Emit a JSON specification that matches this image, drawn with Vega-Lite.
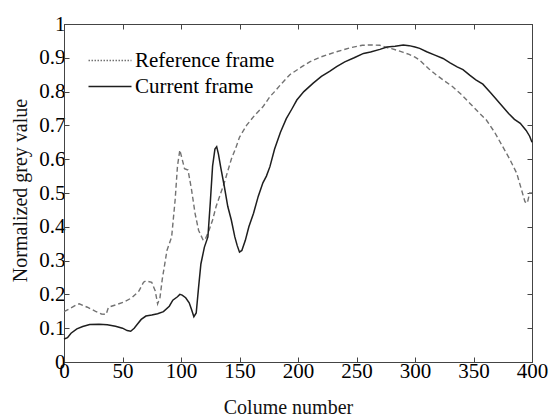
{
  "$schema": "https://vega.github.io/schema/vega-lite/v6.json",
  "width": 468,
  "height": 338,
  "autosize": {"type": "none"},
  "padding": {"left": 64, "top": 24, "right": 19, "bottom": 54},
  "background": "white",
  "config": {
    "view": {"stroke": "#444", "strokeWidth": 1},
    "font": "Liberation Serif",
    "axis": {
      "labelFont": "Liberation Serif",
      "titleFont": "Liberation Serif",
      "labelFontSize": 21,
      "titleFontSize": 20,
      "titleFontWeight": "normal",
      "labelColor": "black",
      "titleColor": "#111",
      "domainColor": "#444",
      "tickColor": "#444",
      "grid": false
    }
  },
  "resolve": {"axis": {"x": "independent", "y": "independent"}},
  "data": {"values": [
    {"x":0,"y":0.149,"s":"Reference frame"},{"x":5,"y":0.158,"s":"Reference frame"},{"x":10,"y":0.168,"s":"Reference frame"},{"x":13,"y":0.172,"s":"Reference frame"},{"x":20,"y":0.162,"s":"Reference frame"},{"x":27,"y":0.15,"s":"Reference frame"},{"x":32,"y":0.142,"s":"Reference frame"},{"x":36,"y":0.141,"s":"Reference frame"},{"x":38,"y":0.162,"s":"Reference frame"},{"x":45,"y":0.17,"s":"Reference frame"},{"x":51,"y":0.177,"s":"Reference frame"},{"x":58,"y":0.19,"s":"Reference frame"},{"x":64,"y":0.21,"s":"Reference frame"},{"x":68,"y":0.236,"s":"Reference frame"},{"x":70,"y":0.24,"s":"Reference frame"},{"x":75,"y":0.236,"s":"Reference frame"},{"x":78,"y":0.21,"s":"Reference frame"},{"x":80,"y":0.172,"s":"Reference frame"},{"x":82,"y":0.19,"s":"Reference frame"},{"x":84,"y":0.245,"s":"Reference frame"},{"x":88,"y":0.33,"s":"Reference frame"},{"x":92,"y":0.37,"s":"Reference frame"},{"x":95,"y":0.48,"s":"Reference frame"},{"x":97,"y":0.58,"s":"Reference frame"},{"x":99,"y":0.627,"s":"Reference frame"},{"x":101,"y":0.6,"s":"Reference frame"},{"x":103,"y":0.572,"s":"Reference frame"},{"x":106,"y":0.568,"s":"Reference frame"},{"x":109,"y":0.51,"s":"Reference frame"},{"x":112,"y":0.44,"s":"Reference frame"},{"x":115,"y":0.39,"s":"Reference frame"},{"x":119,"y":0.36,"s":"Reference frame"},{"x":121,"y":0.365,"s":"Reference frame"},{"x":124,"y":0.39,"s":"Reference frame"},{"x":127,"y":0.42,"s":"Reference frame"},{"x":130,"y":0.46,"s":"Reference frame"},{"x":134,"y":0.5,"s":"Reference frame"},{"x":137,"y":0.53,"s":"Reference frame"},{"x":140,"y":0.565,"s":"Reference frame"},{"x":143,"y":0.6,"s":"Reference frame"},{"x":147,"y":0.635,"s":"Reference frame"},{"x":150,"y":0.665,"s":"Reference frame"},{"x":156,"y":0.7,"s":"Reference frame"},{"x":163,"y":0.73,"s":"Reference frame"},{"x":170,"y":0.755,"s":"Reference frame"},{"x":176,"y":0.785,"s":"Reference frame"},{"x":180,"y":0.8,"s":"Reference frame"},{"x":185,"y":0.82,"s":"Reference frame"},{"x":193,"y":0.85,"s":"Reference frame"},{"x":203,"y":0.873,"s":"Reference frame"},{"x":210,"y":0.888,"s":"Reference frame"},{"x":220,"y":0.903,"s":"Reference frame"},{"x":233,"y":0.918,"s":"Reference frame"},{"x":245,"y":0.93,"s":"Reference frame"},{"x":255,"y":0.937,"s":"Reference frame"},{"x":262,"y":0.938,"s":"Reference frame"},{"x":270,"y":0.937,"s":"Reference frame"},{"x":276,"y":0.93,"s":"Reference frame"},{"x":280,"y":0.927,"s":"Reference frame"},{"x":285,"y":0.922,"s":"Reference frame"},{"x":290,"y":0.916,"s":"Reference frame"},{"x":295,"y":0.91,"s":"Reference frame"},{"x":300,"y":0.902,"s":"Reference frame"},{"x":304,"y":0.893,"s":"Reference frame"},{"x":308,"y":0.88,"s":"Reference frame"},{"x":312,"y":0.867,"s":"Reference frame"},{"x":318,"y":0.85,"s":"Reference frame"},{"x":325,"y":0.832,"s":"Reference frame"},{"x":332,"y":0.815,"s":"Reference frame"},{"x":340,"y":0.79,"s":"Reference frame"},{"x":347,"y":0.765,"s":"Reference frame"},{"x":354,"y":0.74,"s":"Reference frame"},{"x":361,"y":0.716,"s":"Reference frame"},{"x":368,"y":0.68,"s":"Reference frame"},{"x":375,"y":0.637,"s":"Reference frame"},{"x":381,"y":0.6,"s":"Reference frame"},{"x":387,"y":0.558,"s":"Reference frame"},{"x":391,"y":0.51,"s":"Reference frame"},{"x":394,"y":0.474,"s":"Reference frame"},{"x":396,"y":0.47,"s":"Reference frame"},{"x":398,"y":0.5,"s":"Reference frame"},{"x":400,"y":0.5,"s":"Reference frame"},
    {"x":0,"y":0.068,"s":"Current frame"},{"x":3,"y":0.072,"s":"Current frame"},{"x":6,"y":0.085,"s":"Current frame"},{"x":11,"y":0.098,"s":"Current frame"},{"x":16,"y":0.105,"s":"Current frame"},{"x":22,"y":0.111,"s":"Current frame"},{"x":30,"y":0.112,"s":"Current frame"},{"x":37,"y":0.11,"s":"Current frame"},{"x":44,"y":0.106,"s":"Current frame"},{"x":50,"y":0.1,"s":"Current frame"},{"x":54,"y":0.093,"s":"Current frame"},{"x":57,"y":0.091,"s":"Current frame"},{"x":60,"y":0.1,"s":"Current frame"},{"x":63,"y":0.113,"s":"Current frame"},{"x":66,"y":0.126,"s":"Current frame"},{"x":70,"y":0.136,"s":"Current frame"},{"x":75,"y":0.139,"s":"Current frame"},{"x":80,"y":0.143,"s":"Current frame"},{"x":85,"y":0.149,"s":"Current frame"},{"x":90,"y":0.165,"s":"Current frame"},{"x":93,"y":0.183,"s":"Current frame"},{"x":97,"y":0.193,"s":"Current frame"},{"x":99,"y":0.2,"s":"Current frame"},{"x":101,"y":0.198,"s":"Current frame"},{"x":104,"y":0.19,"s":"Current frame"},{"x":107,"y":0.175,"s":"Current frame"},{"x":109,"y":0.155,"s":"Current frame"},{"x":111,"y":0.134,"s":"Current frame"},{"x":113,"y":0.145,"s":"Current frame"},{"x":115,"y":0.22,"s":"Current frame"},{"x":117,"y":0.29,"s":"Current frame"},{"x":120,"y":0.34,"s":"Current frame"},{"x":123,"y":0.37,"s":"Current frame"},{"x":125,"y":0.47,"s":"Current frame"},{"x":127,"y":0.58,"s":"Current frame"},{"x":129,"y":0.63,"s":"Current frame"},{"x":130.5,"y":0.637,"s":"Current frame"},{"x":132,"y":0.615,"s":"Current frame"},{"x":134,"y":0.575,"s":"Current frame"},{"x":137,"y":0.52,"s":"Current frame"},{"x":140,"y":0.46,"s":"Current frame"},{"x":143,"y":0.42,"s":"Current frame"},{"x":146,"y":0.37,"s":"Current frame"},{"x":148,"y":0.345,"s":"Current frame"},{"x":150,"y":0.325,"s":"Current frame"},{"x":152,"y":0.33,"s":"Current frame"},{"x":155,"y":0.36,"s":"Current frame"},{"x":158,"y":0.4,"s":"Current frame"},{"x":162,"y":0.44,"s":"Current frame"},{"x":166,"y":0.49,"s":"Current frame"},{"x":170,"y":0.53,"s":"Current frame"},{"x":173,"y":0.55,"s":"Current frame"},{"x":176,"y":0.578,"s":"Current frame"},{"x":180,"y":0.63,"s":"Current frame"},{"x":185,"y":0.68,"s":"Current frame"},{"x":190,"y":0.72,"s":"Current frame"},{"x":195,"y":0.75,"s":"Current frame"},{"x":199,"y":0.775,"s":"Current frame"},{"x":205,"y":0.8,"s":"Current frame"},{"x":213,"y":0.825,"s":"Current frame"},{"x":220,"y":0.845,"s":"Current frame"},{"x":227,"y":0.86,"s":"Current frame"},{"x":233,"y":0.874,"s":"Current frame"},{"x":240,"y":0.888,"s":"Current frame"},{"x":248,"y":0.9,"s":"Current frame"},{"x":256,"y":0.913,"s":"Current frame"},{"x":262,"y":0.917,"s":"Current frame"},{"x":270,"y":0.925,"s":"Current frame"},{"x":276,"y":0.932,"s":"Current frame"},{"x":283,"y":0.934,"s":"Current frame"},{"x":290,"y":0.938,"s":"Current frame"},{"x":295,"y":0.936,"s":"Current frame"},{"x":300,"y":0.932,"s":"Current frame"},{"x":304,"y":0.928,"s":"Current frame"},{"x":310,"y":0.918,"s":"Current frame"},{"x":317,"y":0.908,"s":"Current frame"},{"x":324,"y":0.898,"s":"Current frame"},{"x":330,"y":0.885,"s":"Current frame"},{"x":336,"y":0.873,"s":"Current frame"},{"x":341,"y":0.865,"s":"Current frame"},{"x":347,"y":0.848,"s":"Current frame"},{"x":352,"y":0.835,"s":"Current frame"},{"x":358,"y":0.822,"s":"Current frame"},{"x":365,"y":0.795,"s":"Current frame"},{"x":370,"y":0.775,"s":"Current frame"},{"x":375,"y":0.755,"s":"Current frame"},{"x":380,"y":0.735,"s":"Current frame"},{"x":385,"y":0.718,"s":"Current frame"},{"x":390,"y":0.706,"s":"Current frame"},{"x":395,"y":0.685,"s":"Current frame"},{"x":398,"y":0.668,"s":"Current frame"},{"x":400,"y":0.65,"s":"Current frame"}
  ]},
  "layer": [
    {
      "transform": [{"filter": "datum.s === 'Reference frame'"}],
      "mark": {"type": "line", "strokeWidth": 1.4, "strokeDash": [5, 3]},
      "encoding": {
        "x": {"field": "x", "type": "quantitative", "scale": {"domain": [0, 400], "nice": false},
              "axis": {"orient": "bottom", "title": "Colume number", "values": [0,50,100,150,200,250,300,350,400], "tickSize": -5, "labelPadding": 3, "labelFlush": false, "labelOverlap": false,
                       "titleX": 224, "titleY": 51, "titleBaseline": "alphabetic", "titleAnchor": "middle"}},
        "y": {"field": "y", "type": "quantitative", "scale": {"domain": [0, 1], "nice": false},
              "axis": {"orient": "left", "title": "Normalized grey value", "values": [0,0.1,0.2,0.3,0.4,0.5,0.6,0.7,0.8,0.9,1], "tickSize": -5, "labelPadding": 4, "labelFlush": false, "labelOverlap": false,
                       "titleX": -38, "titleY": 166, "titleBaseline": "alphabetic", "titleAngle": -90, "titleAnchor": "middle",
                       "labelExpr": "datum.value == 0 || datum.value == 1 ? format(datum.value, 'd') : format(datum.value, '.1f')"}},
        "color": {"field": "s", "type": "nominal",
                  "scale": {"domain": ["Reference frame", "Current frame"], "range": ["#727272", "#1e1e1e"]},
                  "legend": {"orient": "none", "legendX": 35.5, "legendY": 26, "title": null,
                             "labelFont": "Liberation Serif", "labelFontSize": 21, "labelColor": "black",
                             "symbolType": "M-4.3,0H4.3", "symbolSize": 100, "symbolStrokeWidth": 1.3, "labelOffset": 14.5, "rowPadding": 4,
                             "encode": {"symbols": {"update": {"stroke": {"value": "black"}, "fill": {"value": "transparent"},
                               "strokeDash": {"signal": "datum.value === 'Reference frame' ? [1.5, 1.5] : [100, 0]"}}}}}}
      }
    },
    {
      "transform": [{"filter": "datum.s === 'Current frame'"}],
      "mark": {"type": "line", "strokeWidth": 1.5},
      "encoding": {
        "x": {"field": "x", "type": "quantitative", "axis": null},
        "y": {"field": "y", "type": "quantitative", "axis": null},
        "color": {"field": "s", "type": "nominal"}
      }
    },
    {
      "mark": {"type": "line", "opacity": 0},
      "encoding": {
        "x": {"field": "x", "type": "quantitative",
              "axis": {"orient": "top", "title": null, "labels": false, "values": [0,50,100,150,200,250,300,350,400], "tickSize": -5}},
        "y": {"field": "y", "type": "quantitative",
              "axis": {"orient": "right", "title": null, "labels": false, "values": [0,0.1,0.2,0.3,0.4,0.5,0.6,0.7,0.8,0.9,1], "tickSize": -5}},
        "detail": {"field": "s", "type": "nominal"}
      }
    }
  ]
}
